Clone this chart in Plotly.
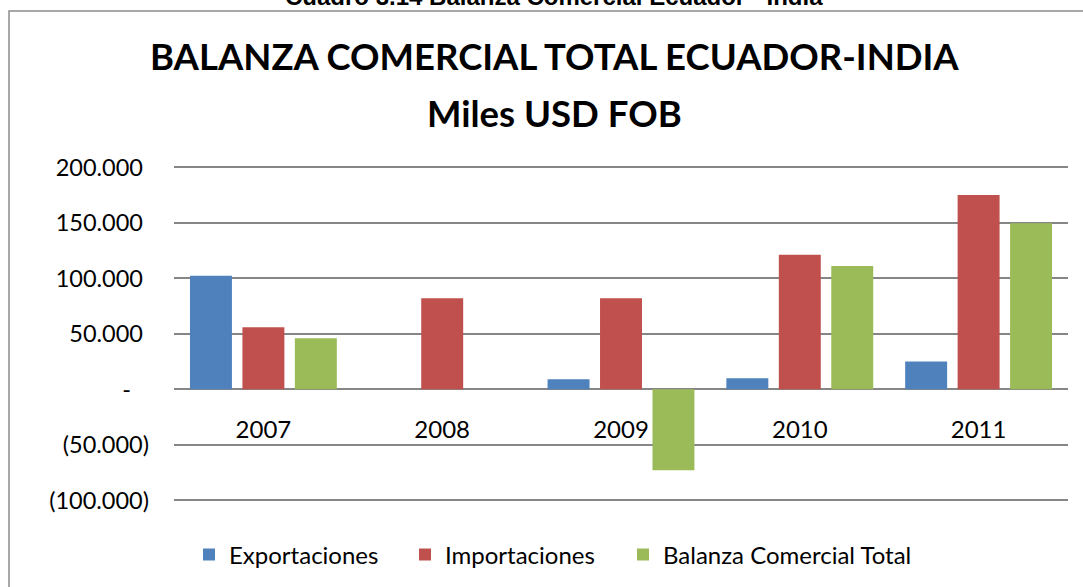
import plotly.graph_objects as go

years = ["2007", "2008", "2009", "2010", "2011"]
exportaciones = [102300, 0, 9000, 10000, 25000]
importaciones = [56000, 82000, 82000, 121300, 175000]
balanza = [46000, 0, -73000, 111000, 149500]

series_names = ["Exportaciones", "Importaciones", "Balanza Comercial Total"]
series_colors = ["#4F81BD", "#C0504D", "#9BBB59"]

tick_vals = [-100000, -50000, 0, 50000, 100000, 150000, 200000]
NB = "\u00a0"
tick_text = ["(100.000)", "(50.000)", "-" + NB * 3, "50.000" + NB, "100.000" + NB, "150.000" + NB, "200.000" + NB]
y_range = [-101530, 202070]

title_line1 = "BALANZA COMERCIAL TOTAL ECUADOR-INDIA"
title_line2 = "Miles USD FOB"
header = "Cuadro 3.14 Balanza Comercial Ecuador - India"

FONT = "Lato"
W, H = 1083, 587
ML, MR, MT, MB = 174, 15, 165, 85
PW, PH = W - ML - MR, H - MT - MB


def px_x(px):
    return (px - ML) / PW


def px_y(py):
    return (H - MB - py) / PH


legend_names = ["legend", "legend2", "legend3"]
legend_square_x = [211, 427, 645]

fig = go.Figure()
for name, vals, col, lg in zip(series_names, [exportaciones, importaciones, balanza], series_colors, legend_names):
    fig.add_trace(go.Bar(
        x=years, y=vals, name=name, legend=lg,
        marker=dict(color=col, line=dict(width=0)),
    ))

annotations = [
    dict(
        x=px_x(554), y=px_y(12), xref="paper", yref="paper", text="<b>" + header + "</b>",
        showarrow=False, xanchor="center", yanchor="bottom",
        font=dict(family="Liberation Sans", size=24, color="#000000"),
    ),
    dict(
        x=px_x(554), y=px_y(56), xref="paper", yref="paper", text="<b>" + title_line1 + "</b>",
        showarrow=False, xanchor="center", yanchor="middle",
        font=dict(family=FONT, size=36.5, color="#000000"),
    ),
    dict(
        x=px_x(554), y=px_y(113), xref="paper", yref="paper", text="<b>" + title_line2 + "</b>",
        showarrow=False, xanchor="center", yanchor="middle",
        font=dict(family=FONT, size=36.5, color="#000000"),
    ),
]

legend_common = dict(
    orientation="h", yanchor="middle", xanchor="left",
    font=dict(family=FONT, size=24, color="#000000"),
    bgcolor="rgba(0,0,0,0)",
)
legend_layout = {}
for lg, sx in zip(legend_names, legend_square_x):
    legend_layout[lg] = dict(legend_common, x=px_x(sx - 22), y=px_y(555))

zero_pos = (0 - y_range[0]) / (y_range[1] - y_range[0])

fig.update_layout(
    width=W, height=H,
    margin=dict(l=ML, r=MR, t=MT, b=MB, autoexpand=False),
    paper_bgcolor="white", plot_bgcolor="white",
    barmode="group", bargap=0.12, bargroupgap=0.2,
    font=dict(family=FONT, size=24, color="#000000"),
    showlegend=True,
    annotations=annotations,
    shapes=[dict(
        type="rect", xref="paper", yref="paper",
        x0=px_x(9), y0=px_y(11), x1=px_x(1200), y1=px_y(700),
        line=dict(color="#8C8C8C", width=1.5), fillcolor="rgba(0,0,0,0)", layer="below",
    )],
    xaxis=dict(
        type="category", categoryorder="array", categoryarray=years,
        anchor="free", position=zero_pos,
        showticklabels=True, showgrid=False, zeroline=False, showline=False, ticks="",
        ticklabelstandoff=24,
        tickfont=dict(family=FONT, size=24, color="#000000"),
    ),
    yaxis=dict(
        range=y_range, tickvals=tick_vals, ticktext=tick_text,
        showgrid=True, gridcolor="#868686", gridwidth=1.6,
        zeroline=True, zerolinecolor="#868686", zerolinewidth=1.6,
        showline=False, ticks="", ticklabelstandoff=24,
        tickfont=dict(family=FONT, size=23.5, color="#000000"),
    ),
    **legend_layout,
)

fig.write_html(
    "out.html",
    config={"displayModeBar": False},
    post_script="document.body.style.margin='0';document.body.style.overflow='hidden';",
)
